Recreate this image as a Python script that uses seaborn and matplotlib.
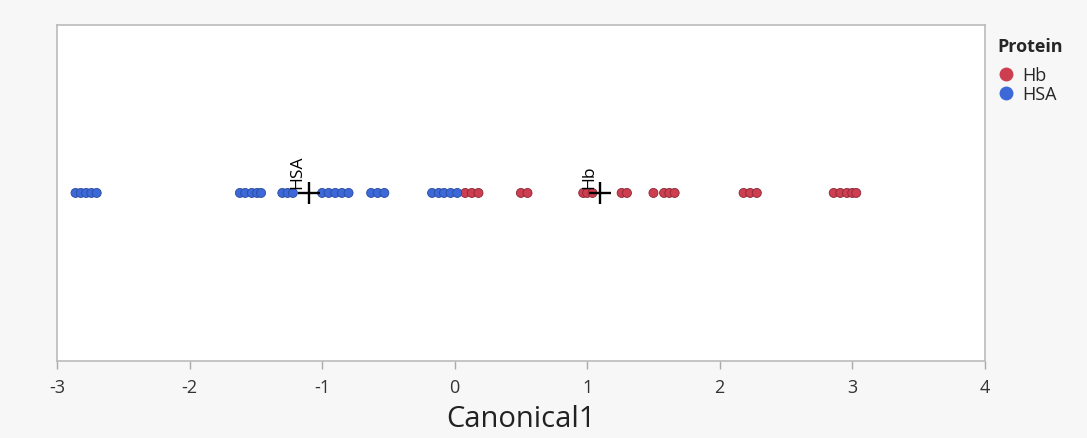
import matplotlib
matplotlib.use("Agg")
import matplotlib.pyplot as plt
from matplotlib.lines import Line2D
import seaborn as sns
import pandas as pd
import numpy as np

# Canonical scores per sample
hsa_scores = [-2.86, -2.82, -2.78, -2.74, -2.70,
              -1.62, -1.58, -1.53, -1.49, -1.46,
              -1.30, -1.26, -1.22,
              -1.00, -0.95, -0.90, -0.85, -0.80,
              -0.63, -0.58, -0.53,
              -0.17, -0.12, -0.08, -0.03, 0.02]
hb_scores = [0.08, 0.13, 0.18,
             0.50, 0.55,
             0.97, 1.00, 1.04,
             1.26, 1.30,
             1.50, 1.58, 1.62, 1.66,
             2.18, 2.23, 2.28,
             2.86, 2.91, 2.96, 3.00, 3.03]

# Group centroids on Canonical1
centroid_names = ["HSA", "Hb"]
centroid_values = [-1.10, 1.10]

proteins = ["Hb", "HSA"]
colors = {"Hb": "#CC3F50", "HSA": "#3D68D8"}
edge_colors = {"Hb": "#8E2535", "HSA": "#2A4A9E"}

df = pd.DataFrame({
    "Canonical1": hb_scores + hsa_scores,
    "Protein": ["Hb"] * len(hb_scores) + ["HSA"] * len(hsa_scores),
})
df["y"] = 0.0

sns.set_style("white")
plt.rcParams["font.family"] = ["Open Sans", "DejaVu Sans"]

fig = plt.figure(figsize=(10.87, 4.38), dpi=100, facecolor="#F7F7F7")
ax = fig.add_axes([0.0524, 0.176, 0.8536, 0.767])
ax.set_facecolor("white")

sns.scatterplot(data=df, x="Canonical1", y="y", hue="Protein",
                hue_order=proteins, palette=colors, s=42,
                linewidth=0.6, ax=ax, zorder=3, legend=False)
pts = ax.collections[-1]
pts.set_edgecolors([edge_colors[p] for p in df["Protein"]])

for name, v in zip(centroid_names, centroid_values):
    ax.scatter([v], [0], marker="+", s=250, color="black", linewidth=1.7, zorder=5)
    ax.annotate(name, xy=(v, 0), xytext=(-8, 3), textcoords="offset points",
                rotation=90, ha="center", va="bottom", fontsize=12.5,
                color="black", zorder=6)

ax.set_xlim(-3, 4)
ax.set_ylim(-1.0, 1.0)
ax.set_xticks(range(-3, 5))
ax.set_xticklabels([str(t) for t in range(-3, 5)])
ax.set_yticks([])
ax.set_ylabel("")
ax.set_xlabel("Canonical1", fontsize=21, color="#222222", labelpad=6)
ax.tick_params(axis="x", bottom=True, length=6, width=1, color="#AAAAAA",
               labelsize=13, labelcolor="#333333", pad=7)
for sp in ax.spines.values():
    sp.set_color("#BBBBBB")
    sp.set_linewidth(1.2)

handles = [Line2D([], [], marker="o", linestyle="", markersize=10,
                  markerfacecolor=colors[p], markeredgewidth=0, label=p)
           for p in proteins]
leg = ax.legend(handles=handles, title="Protein", loc="upper left",
                bbox_to_anchor=(1.0, 1.0), frameon=False, fontsize=13,
                title_fontsize=13, handletextpad=0.4, borderaxespad=0.3,
                labelspacing=0.05, handlelength=1.0)
leg.get_title().set_fontweight("bold")
leg._legend_box.align = "left"
leg._legend_box.sep = 8

fig.savefig("out.png", dpi=100, facecolor=fig.get_facecolor())
